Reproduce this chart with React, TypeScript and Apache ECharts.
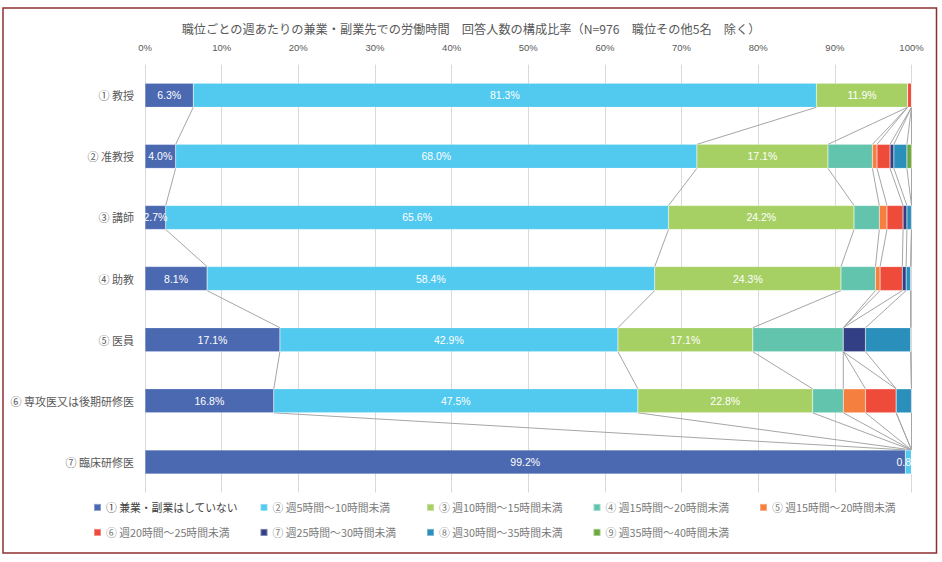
import React, { useEffect, useRef } from "react";
import * as echarts from "echarts";

const titleText =
  "職位ごとの週あたりの兼業・副業先での労働時間　回答人数の構成比率（N=976　職位その他5名　除く）";

const categories = [
  "① 教授",
  "② 准教授",
  "③ 講師",
  "④ 助教",
  "⑤ 医員",
  "⑥ 専攻医又は後期研修医",
  "⑦ 臨床研修医",
];

const seriesNames = [
  "① 兼業・副業はしていない",
  "② 週5時間～10時間未満",
  "③ 週10時間～15時間未満",
  "④ 週15時間～20時間未満",
  "⑤ 週15時間～20時間未満 ",
  "⑥ 週20時間～25時間未満",
  "⑦ 週25時間～30時間未満",
  "⑧ 週30時間～35時間未満",
  "⑨ 週35時間～40時間未満",
];

const colors = [
  "#4B69B1",
  "#52C9EF",
  "#A7D064",
  "#63C4AD",
  "#F47F3E",
  "#EF4B3A",
  "#323F85",
  "#2A8FBA",
  "#6AAB3C",
];

// values per series, one per category (percent)
const s1 = [6.3, 4.0, 2.7, 8.1, 17.6, 16.8, 99.2];
const s2 = [81.3, 68.0, 65.6, 58.4, 44.1, 47.5, 0.8];
const s3 = [11.9, 17.1, 24.2, 24.3, 17.6, 22.8, 0];
const s4 = [0, 5.8, 3.3, 4.5, 11.8, 4.0, 0];
const s5 = [0, 0.6, 1.0, 0.6, 0, 2.9, 0];
const s6 = [0.5, 1.7, 2.1, 2.9, 0, 4.0, 0];
const s7 = [0, 0.5, 0.5, 0.5, 2.9, 0, 0];
const s8 = [0, 1.7, 0.6, 0.6, 5.9, 2.0, 0];
const s9 = [0, 0.6, 0, 0, 0, 0, 0];
const seriesValues = [s1, s2, s3, s4, s5, s6, s7, s8, s9];

// data labels as printed in the source (row ⑤ labels differ from bar lengths)
const labelOverrides: Record<number, string[]> = {
  4: ["17.1%", "42.9%", "17.1%"],
};

const xTicks = [0, 10, 20, 30, 40, 50, 60, 70, 80, 90, 100];

const BAR_W = 24;
const FONT_JP = "'Noto Sans CJK JP', 'Liberation Sans', sans-serif";
const FONT_NUM = "'Liberation Sans', 'Noto Sans CJK JP', sans-serif";

export default function App() {
  const ref = useRef<HTMLDivElement>(null);

  useEffect(() => {
    if (!ref.current) return;
    const chart = echarts.init(ref.current, undefined, { renderer: "svg" });

    // cumulative ends for series lines
    const cum: number[][] = categories.map((_, r) => {
      let acc = 0;
      return seriesValues.map((sv) => {
        acc += sv[r];
        return acc;
      });
    });
    const lineData: number[][] = [];
    for (let r = 0; r < categories.length - 1; r++) {
      for (let s = 0; s < seriesValues.length; s++) {
        lineData.push([cum[r][s], r, cum[r + 1][s], r + 1]);
      }
    }

    const barSeries = seriesValues.map((vals, si) => ({
      name: seriesNames[si],
      type: "bar",
      stack: "total",
      barWidth: BAR_W,
      itemStyle: { color: colors[si], borderColor: "rgba(255,255,255,0.35)", borderWidth: 0.5 },
      label: {
        show: si < 3,
        position: "inside",
        color: "#FFFFFF",
        fontSize: 10.5,
        fontFamily: FONT_NUM,
        formatter: (p: any) => {
          if (!p.value) return "";
          const ov = labelOverrides[p.dataIndex];
          if (ov && ov[si]) return ov[si];
          return Number(p.value).toFixed(1) + "%";
        },
      },
      emphasis: { disabled: true },
      data: vals,
    }));

    const legendPos = [
      [93, 502],
      [259.5, 502],
      [426, 502],
      [592.5, 502],
      [759, 502],
      [93, 527],
      [259.5, 527],
      [426, 527],
      [592.5, 527],
    ];
    const legends = seriesNames.map((n, i) => ({
      left: legendPos[i][0],
      top: legendPos[i][1],
      padding: 0,
      itemWidth: 7,
      itemHeight: 7,
      icon: "rect",
      selectedMode: false,
      data: [n],
      textStyle: {
        color: i === 0 ? "#3F3F3F" : "#7A7A7A",
        fontSize: 10.8,
        fontFamily: FONT_JP,
      },
    }));

    chart.setOption({
      animation: false,
      title: {
        text: titleText,
        left: "center",
        top: 18,
        textStyle: {
          color: "#595959",
          fontSize: 12.2,
          fontWeight: "normal",
          fontFamily: FONT_JP,
        },
      },
      legend: legends,
      grid: { left: 145, right: 30.5, top: 64.7, bottom: 69.5, containLabel: false },
      xAxis: {
        type: "value",
        position: "top",
        min: 0,
        max: 100,
        interval: 10,
        axisLine: { show: false },
        axisTick: { show: false },
        axisLabel: {
          color: "#595959",
          fontSize: 9.5,
          fontFamily: FONT_NUM,
          margin: 12,
          formatter: (v: number) => (xTicks.includes(v) ? v + "%" : ""),
        },
        splitLine: { show: true, lineStyle: { color: "#D9D9D9", width: 1 } },
      },
      yAxis: {
        type: "category",
        inverse: true,
        data: categories,
        axisLine: { show: false },
        axisTick: { show: false },
        axisLabel: {
          color: "#595959",
          fontSize: 11,
          fontFamily: FONT_JP,
          margin: 11,
        },
      },
      series: [
        ...barSeries,
        {
          name: "seriesLines",
          type: "custom",
          silent: true,
          z: 1,
          encode: { x: [0, 2], y: [1, 3] },
          renderItem: (_params: any, api: any) => {
            const a = api.coord([api.value(0), api.value(1)]);
            const b = api.coord([api.value(2), api.value(3)]);
            const h = BAR_W / 2;
            return {
              type: "line",
              shape: { x1: a[0], y1: a[1] + h, x2: b[0], y2: b[1] - h },
              style: { stroke: "#A6A6A6", lineWidth: 1 },
            };
          },
          data: lineData,
        },
      ],
      graphic: [
        {
          type: "rect",
          shape: { x: 3, y: 8, width: 933.5, height: 545 },
          style: { fill: "none", stroke: "#8E2F2F", lineWidth: 1.5 },
          silent: true,
          z: 100,
        },
      ],
    });

    return () => chart.dispose();
  }, []);

  return (
    <div
      ref={ref}
      style={{ position: "fixed", left: 0, top: 0, width: 942, height: 562, background: "#fff" }}
    />
  );
}
